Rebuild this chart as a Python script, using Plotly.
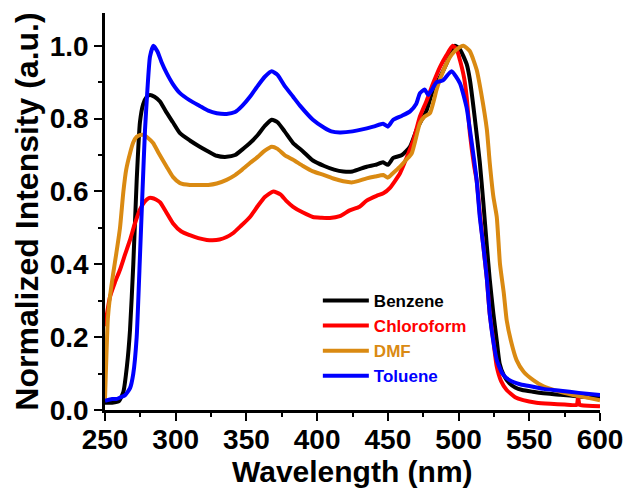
import plotly.graph_objects as go

# ---------------- data ----------------
benzene_x = [250, 255, 260, 263, 265.5, 267.7, 270, 272.4, 274.7, 277, 279.5, 281.8, 285, 288.9, 293, 298,
             303, 310, 317, 323, 329, 336, 342, 347, 352.5, 358, 363, 367.9, 372, 377, 383, 390, 397, 405,
             412, 418.5, 425, 435, 441, 446.6, 450, 453.8, 460, 465.7, 470.4, 477.5, 482, 487, 491.6, 494,
             497.5, 501, 505.7, 508, 511.5, 515, 517.5, 520, 522, 524.6, 527, 529, 532, 536, 540, 545,
             552.6, 560, 572, 585, 600]
benzene_y = [0.02, 0.02, 0.025, 0.05, 0.12, 0.22, 0.40, 0.63, 0.79, 0.84, 0.86, 0.865, 0.86, 0.847, 0.82, 0.79,
             0.76, 0.74, 0.723, 0.71, 0.698, 0.695, 0.70, 0.715, 0.733, 0.755, 0.78, 0.797, 0.79, 0.765, 0.733,
             0.71, 0.685, 0.67, 0.66, 0.655, 0.655, 0.668, 0.673, 0.68, 0.673, 0.692, 0.70, 0.723, 0.77, 0.824,
             0.88, 0.915, 0.952, 0.975, 1.0, 0.99, 0.95, 0.907, 0.80, 0.68, 0.57, 0.45, 0.36, 0.265, 0.19,
             0.128, 0.095, 0.073, 0.062, 0.055, 0.05, 0.046, 0.042, 0.037, 0.033]

chloroform_x = [250, 253.5, 257, 260.6, 264, 267.7, 271, 274.7, 278, 281, 283, 286, 289, 293, 298, 304, 310,
                316, 322, 326, 331, 336, 340.7, 346, 352.5, 358, 363, 369, 374, 378, 383, 390, 397, 403, 409,
                416, 423, 430, 435, 442, 446.8, 451.5, 458.6, 463, 468, 472.7, 477.5, 482, 487, 491.6, 495.8,
                498.7, 501, 504, 505.7, 508, 511, 512.8, 515, 517.5, 520, 522, 524.6, 527, 530, 534, 540,
                545.7, 555, 565, 575, 583.5, 584.5, 585.5, 587, 600]
chloroform_y = [0.23, 0.31, 0.35, 0.385, 0.425, 0.467, 0.51, 0.55, 0.572, 0.582, 0.582, 0.578, 0.57, 0.545,
                0.513, 0.49, 0.48, 0.472, 0.467, 0.466, 0.468, 0.475, 0.486, 0.505, 0.53, 0.56, 0.585, 0.60,
                0.592, 0.575, 0.558, 0.542, 0.53, 0.528, 0.527, 0.532, 0.548, 0.558, 0.575, 0.588, 0.595,
                0.61, 0.65, 0.69, 0.74, 0.806, 0.85, 0.897, 0.943, 0.975, 1.0, 0.99, 0.96, 0.91, 0.86, 0.76,
                0.67, 0.63, 0.54, 0.45, 0.36, 0.265, 0.19, 0.119, 0.08, 0.055, 0.035, 0.027, 0.02, 0.017,
                0.015, 0.014, 0.035, 0.014, 0.013, 0.01]

dmf_x = [250, 251, 252, 253.5, 256, 258, 260.6, 263, 265, 267.7, 270, 272.4, 275, 277.5, 280, 284, 288,
         293.6, 298, 303, 310, 317, 323, 329, 336, 342, 347, 352.5, 358, 363, 367.9, 372, 377, 383, 390,
         397, 405, 412, 418.5, 425, 435, 441, 446.8, 450, 453, 458.6, 463, 466.9, 472.7, 476, 479.8, 484.5,
         487, 491.6, 495, 498.7, 503.4, 508, 512.8, 516, 520, 522, 524.6, 527, 529.3, 532, 534, 537, 541,
         546, 552.8, 560, 572, 585, 600]
dmf_y = [0.03, 0.15, 0.25, 0.31, 0.38, 0.43, 0.50, 0.60, 0.66, 0.705, 0.735, 0.75, 0.755, 0.755, 0.748,
         0.733, 0.705, 0.668, 0.64, 0.623, 0.618, 0.618, 0.618, 0.622, 0.632, 0.645, 0.66, 0.678, 0.695,
         0.712, 0.723, 0.717, 0.70, 0.687, 0.67, 0.655, 0.645, 0.635, 0.628, 0.625, 0.636, 0.641, 0.645,
         0.638, 0.648, 0.668, 0.687, 0.705, 0.788, 0.806, 0.815, 0.88, 0.91, 0.952, 0.975, 0.99, 1.0, 0.985,
         0.934, 0.87, 0.77, 0.68, 0.586, 0.53, 0.40, 0.32, 0.247, 0.19, 0.137, 0.105, 0.082, 0.065, 0.05,
         0.038, 0.027]

toluene_x = [250, 255, 258, 261, 264, 267.7, 270, 272.4, 274.7, 276.5, 278.3, 280, 281.8, 284.2, 287, 290,
             293.6, 298, 303, 310, 317, 323, 329, 336, 342, 347, 352.5, 358, 363, 367.9, 372, 377, 383, 388,
             397, 405, 410, 416, 425, 439.7, 446.6, 450, 453.8, 460, 465.7, 470, 472.7, 476, 478.6, 484.5,
             489, 495, 501, 505.7, 508, 512.8, 515, 517.5, 520, 522, 524.5, 527, 531, 536, 544, 552.6, 560,
             572, 585, 600]
toluene_y = [0.025, 0.03, 0.03, 0.035, 0.04, 0.06, 0.10, 0.20, 0.42, 0.60, 0.77, 0.88, 0.97, 1.0, 0.985,
             0.955, 0.925, 0.895, 0.87, 0.85, 0.835, 0.822, 0.815, 0.813, 0.818, 0.835, 0.86, 0.89, 0.915,
             0.93, 0.92, 0.89, 0.86, 0.835, 0.797, 0.775, 0.765, 0.762, 0.765, 0.778, 0.786, 0.778, 0.797,
             0.808, 0.82, 0.84, 0.87, 0.88, 0.865, 0.90, 0.905, 0.93, 0.897, 0.83, 0.77, 0.63, 0.53, 0.45,
             0.36, 0.265, 0.19, 0.137, 0.10, 0.082, 0.07, 0.064, 0.058, 0.053, 0.047, 0.041]

series_names = ["Benzene", "Chloroform", "DMF", "Toluene"]
series_colors = ["#000000", "#ff0000", "#da8a12", "#0000ff"]
series_x = [benzene_x, chloroform_x, dmf_x, toluene_x]
series_y = [benzene_y, chloroform_y, dmf_y, toluene_y]

x_title = "Wavelength (nm)"
y_title = "Normalized Intensity (a.u.)"

# ---------------- figure ----------------
FONT = "Arial, 'Liberation Sans', sans-serif"
fig = go.Figure()
for name, color, xs, ys in zip(series_names, series_colors, series_x, series_y):
    fig.add_trace(go.Scatter(
        x=xs, y=ys, mode="lines",
        name=f"<span style='color:{color}'>{name}</span>",
        line=dict(color=color, width=4, shape="spline", smoothing=0.5),
    ))

axis_common = dict(
    showline=True, linecolor="black", linewidth=2.5, mirror=False,
    ticks="outside", ticklen=8, tickwidth=2, tickcolor="black",
    showgrid=False, zeroline=False, automargin=False,
    tickfont=dict(family=FONT, size=28, color="black", weight="bold"),
)
fig.update_xaxes(
    range=[250, 600], dtick=50, tick0=250, ticklabelstandoff=-5,
    minor=dict(dtick=25, ticks="outside", ticklen=4, tickwidth=2, tickcolor="black"),
    **axis_common,
)
fig.update_yaxes(
    range=[0, 1.09], dtick=0.2, tick0=0, tickformat=".1f",
    minor=dict(dtick=0.1, ticks="outside", ticklen=4, tickwidth=2, tickcolor="black"),
    title=dict(text=y_title, font=dict(family=FONT, size=32, color="black", weight="bold"), standoff=2),
    **axis_common,
)
# x-axis title as a paper-anchored annotation
fig.add_annotation(
    text=x_title, xref="paper", yref="paper", x=0.5, y=0,
    xanchor="center", yanchor="top", yshift=-43, showarrow=False,
    font=dict(family=FONT, size=30, color="black", weight="bold"),
)
fig.update_layout(
    width=627, height=488,
    margin=dict(l=105, r=27, t=13, b=78),
    paper_bgcolor="white", plot_bgcolor="white",
    showlegend=True,
    legend=dict(
        x=0.43, y=0.32, xanchor="left", yanchor="top",
        bgcolor="rgba(0,0,0,0)",
        font=dict(family=FONT, size=17, color="black", weight="bold"),
        itemwidth=46, tracegroupgap=0,
    ),
)
fig.write_html("out.html")
